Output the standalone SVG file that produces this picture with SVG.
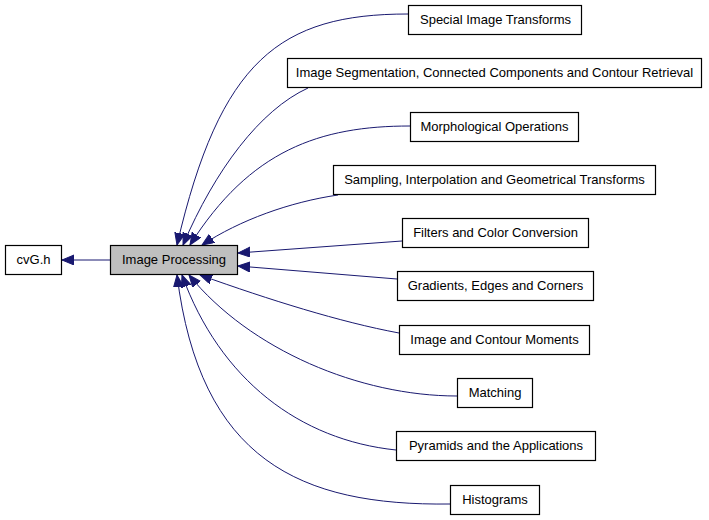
<svg xmlns="http://www.w3.org/2000/svg" width="709" height="520" viewBox="0 0 709 520">
<defs>
<style>
.node rect{fill:#ffffff;stroke:#000000;stroke-width:1.2}
.node.cur rect{fill:#bfbfbf}
.node text{font-family:"Liberation Sans",Arial,Helvetica,sans-serif;font-size:13px;fill:#000000;text-anchor:middle}
.edge{fill:none;stroke:#191970;stroke-width:1;marker-end:url(#arr)}
</style>
<marker id="arr" markerUnits="userSpaceOnUse" markerWidth="13" markerHeight="11" refX="12" refY="5" orient="auto">
<path d="M0,0 L12,5 L0,10 z" fill="#191970" stroke="#191970" stroke-width="1"/>
</marker>
</defs>
<rect width="709" height="520" fill="#ffffff"/>
<g id="edges">
<path class="edge" d="M110,260 L62,260"/>
<path class="edge" d="M408,14 C280,14 220,60 177,245"/>
<path class="edge" d="M308,88 C260,110 215,170 183,245"/>
<path class="edge" d="M410,126 C320,126 250,150 190,245"/>
<path class="edge" d="M338,195 C290,202 240,220 202,245"/>
<path class="edge" d="M402,241 L238,253"/>
<path class="edge" d="M397,279 L238,266"/>
<path class="edge" d="M399,333 C340,322 270,300 200,275"/>
<path class="edge" d="M457,396 C360,396 250,350 189,275"/>
<path class="edge" d="M396,450 C300,440 220,380 182,275"/>
<path class="edge" d="M450,504 C300,506 200,460 177,275"/>
</g>
<g id="cvG_h" class="node"><rect x="5.5" y="245.5" width="56" height="29"/><text x="33.5" y="264">cvG.h</text></g>
<g id="image_processing" class="node cur"><rect x="110.5" y="245.5" width="127" height="29"/><text x="174" y="264">Image Processing</text></g>
<g id="special_image_transforms" class="node"><rect x="408.5" y="5.5" width="173" height="29"/><text x="495.5" y="24">Special Image Transforms</text></g>
<g id="image_segmentation" class="node"><rect x="287.5" y="58.5" width="414" height="29"/><text x="494.5" y="77">Image Segmentation, Connected Components and Contour Retrieval</text></g>
<g id="morphological_operations" class="node"><rect x="410.5" y="112.5" width="168" height="29"/><text x="494.5" y="131">Morphological Operations</text></g>
<g id="sampling" class="node"><rect x="333.5" y="165.5" width="322" height="29"/><text x="494.5" y="184">Sampling, Interpolation and Geometrical Transforms</text></g>
<g id="filters" class="node"><rect x="402.5" y="218.5" width="186" height="29"/><text x="495.5" y="237">Filters and Color Conversion</text></g>
<g id="gradients" class="node"><rect x="397.5" y="271.5" width="196" height="29"/><text x="495.5" y="290">Gradients, Edges and Corners</text></g>
<g id="moments" class="node"><rect x="399.5" y="325.5" width="190" height="29"/><text x="494.5" y="344">Image and Contour Moments</text></g>
<g id="matching" class="node"><rect x="457.5" y="378.5" width="75" height="29"/><text x="495" y="397">Matching</text></g>
<g id="pyramids" class="node"><rect x="396.5" y="431.5" width="199" height="29"/><text x="496" y="450">Pyramids and the Applications</text></g>
<g id="histograms" class="node"><rect x="450.5" y="485.5" width="89" height="29"/><text x="495" y="504">Histograms</text></g>
</svg>
